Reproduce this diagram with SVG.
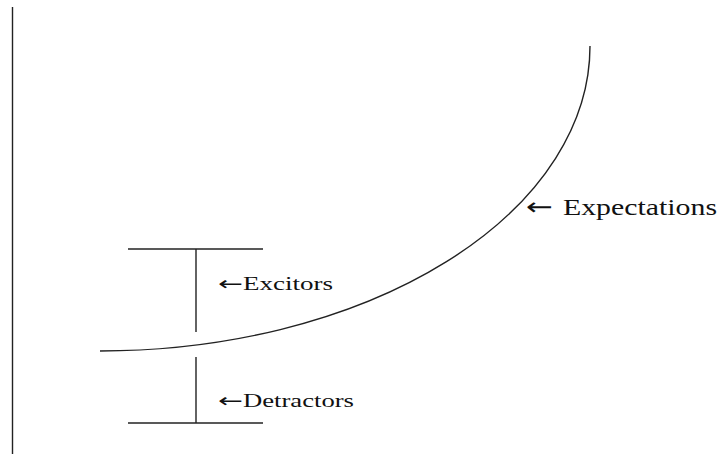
<svg xmlns="http://www.w3.org/2000/svg" width="725" height="454" viewBox="0 0 725 454">
<style>
.ln{stroke:#222;stroke-width:1.4;fill:none}
.lbl{font-family:"Liberation Serif","DejaVu Serif",serif;fill:#111}
.arr{font-family:"DejaVu Sans",sans-serif}
</style>
<rect width="725" height="454" fill="#fff"/>
<g id="connectors">
<line class="ln" x1="12.5" y1="7" x2="12.5" y2="454"/>
<path class="ln" d="M100,351 A490,305 0 0 0 590,46"/>
<line class="ln" x1="128" y1="249" x2="263" y2="249"/>
<line class="ln" x1="196" y1="249" x2="196" y2="332"/>
<line class="ln" x1="196" y1="357" x2="196" y2="423"/>
<line class="ln" x1="128" y1="423" x2="263" y2="423"/>
</g>
<g id="expectations">
<text class="lbl" y="215" font-size="24"><tspan class="arr" x="526" textLength="27" lengthAdjust="spacingAndGlyphs">←</tspan><tspan x="563" textLength="154" lengthAdjust="spacingAndGlyphs">Expectations</tspan></text>
</g>
<g id="excitors">
<text class="lbl" y="290" font-size="19"><tspan class="arr" x="218" textLength="25" lengthAdjust="spacingAndGlyphs">←</tspan><tspan x="243" textLength="90" lengthAdjust="spacingAndGlyphs">Excitors</tspan></text>
</g>
<g id="detractors">
<text class="lbl" y="407" font-size="19"><tspan class="arr" x="218" textLength="25" lengthAdjust="spacingAndGlyphs">←</tspan><tspan x="243" textLength="111" lengthAdjust="spacingAndGlyphs">Detractors</tspan></text>
</g>
</svg>
